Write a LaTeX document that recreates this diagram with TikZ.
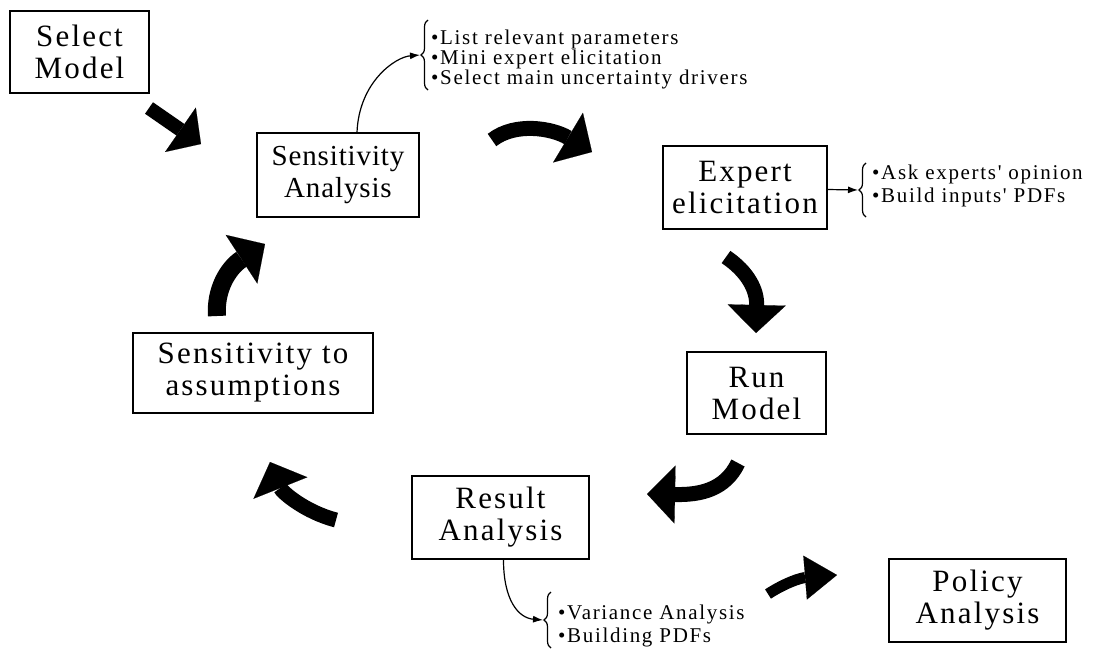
\documentclass[tikz,border=0pt]{standalone}
\usepackage{fontspec}
\setmainfont{Liberation Serif}
\newfontfamily\boxfont[LetterSpace=7]{Liberation Serif}
\newfontfamily\boxfontb[LetterSpace=3]{Liberation Serif}
\newfontfamily\notefont[LetterSpace=8]{Liberation Serif}
\usetikzlibrary{arrows.meta,decorations.pathreplacing,calc}
\begin{document}
\begin{tikzpicture}[x=1pt,y=-1pt,
  box/.style={draw, line width=1.4pt, align=center, inner sep=0pt,
    font=\boxfont\fontsize{31}{32}\selectfont},
  fat/.style={line width=15pt, -{Triangle[width=58pt,length=28pt,line width=0.1pt]}},
  ann/.style={line width=1.2pt, -{Latex[length=10pt,width=7pt]}},
  note/.style={font=\notefont\fontsize{21}{23}\selectfont, align=left, anchor=west, inner sep=0pt},
  brc/.style={decorate, decoration={brace, amplitude=7pt}, line width=1.2pt}]
\useasboundingbox (0,0) rectangle (1094,649);
% boxes
\node[box, minimum width=139pt, minimum height=82pt] (sel) at (79.5,52) {Select\\Model};
\node[box, minimum width=162pt, minimum height=84pt, font=\boxfontb\fontsize{29}{32}\selectfont] (sa) at (338,175) {Sensitivity\\Analysis};
\node[box, minimum width=164pt, minimum height=83pt] (ee) at (745,187.5) {Expert\\elicitation};
\node[box, minimum width=139pt, minimum height=82pt] (rm) at (756.5,393) {Run\\Model};
\node[box, minimum width=177pt, minimum height=83pt] (ra) at (500.5,517.5) {Result\\Analysis};
\node[box, minimum width=240pt, minimum height=80pt] (st) at (253,373) {Sensitivity to\\assumptions};
\node[box, minimum width=177pt, minimum height=83pt] (pa) at (977.5,600.5) {Policy\\Analysis};
% annotations
\node[note, font=\notefont\fontsize{21}{20}\selectfont] (n1) at (431,59)
  {\textbullet List relevant parameters\\\textbullet Mini expert elicitation\\\textbullet Select main uncertainty drivers};
\node[note] (n2) at (872,186) {\textbullet Ask experts' opinion\\\textbullet Build inputs' PDFs};
\node[note] (n3) at (558,626) {\textbullet Variance Analysis\\\textbullet Building PDFs};
% braces
\coordinate (b1s) at (428,90); \coordinate (b1e) at (428,20); \coordinate (c1) at (420,55);
\coordinate (b2s) at (866,217); \coordinate (b2e) at (866,163); \coordinate (c2) at (858,190);
\coordinate (b3s) at (551,648); \coordinate (b3e) at (551,592); \coordinate (c3) at (543,620);
\draw[brc] (b1s) -- (b1e);
\draw[brc] (b2s) -- (b2e);
\draw[brc] (b3s) -- (b3e);
\draw[ann] ($(sa.north)+(19,0)$) .. controls +(2,-50) and +(-25,2) .. (c1);
\draw[ann] ([yshift=-2pt]ee.east) -- (c2);
\draw[ann] ($(ra.south)+(3,0)$) .. controls +(0,40) and +(-25,-2) .. (c3);
% fat arrows
\coordinate (f1a) at (149,108); \coordinate (f1b) at (201,144);
\draw[fat, line width=14pt, -{Triangle[width=54pt,length=25pt,line width=0.1pt]}] (f1a) -- (f1b);
\draw[fat] (492,140) .. controls (515,122) and (552,128) .. (592,152);
\draw[fat] (726,257) .. controls (748,272) and (757,290) .. (756,333);
\draw[fat] (738,463) .. controls (725,490) and (700,495) .. (647,494);
\draw[fat] (336,520) .. controls (305,512) and (282,492) .. (270,462);
\draw[fat, line width=18pt] (217,316) .. controls (215,290) and (228,268) .. (265,244);
\draw[fat, line width=11pt, -{Triangle[width=44pt,length=32pt,line width=0.1pt]}]
  (768,594) .. controls (785,583) and (800,578) .. (837,575);
\end{tikzpicture}
\end{document}
